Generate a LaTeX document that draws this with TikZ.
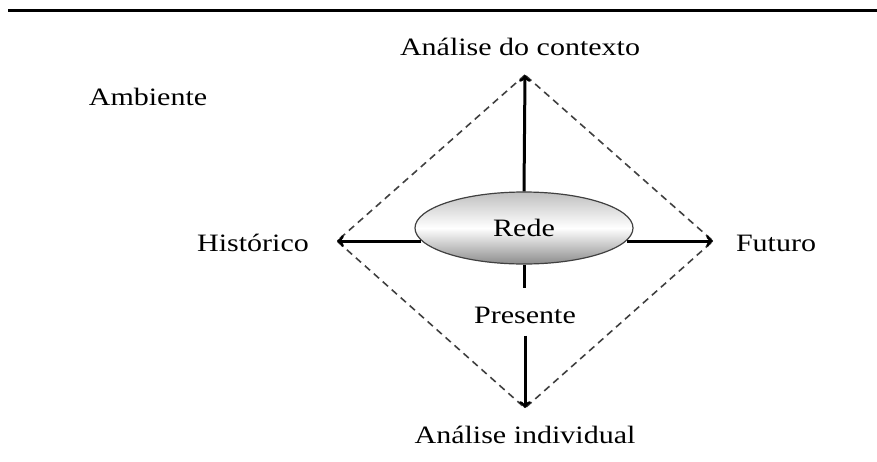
\documentclass[tikz,border=0pt]{standalone}
\usepackage{fontspec}
\setmainfont[FakeStretch=1.2]{Liberation Serif}
\usetikzlibrary{arrows,positioning,calc,shapes.geometric}

\begin{document}
\begin{tikzpicture}[x=1pt, y=-1pt,
    lbl/.style={inner sep=0pt, font=\fontsize{25}{25}\selectfont},
    axis/.style={line width=3pt, ->, >=to},
    frame/.style={dashed, line width=1.6pt, draw=black!75, dash pattern=on 7pt off 5pt}]
  \useasboundingbox (0,0) rectangle (877,461);
  \draw [line width=3pt] (8,10) -- (877,10);

  \coordinate (top) at (525,75);
  \coordinate (left) at (337,241);
  \coordinate (right) at (713,241);
  \coordinate (bottom) at (525,408);

  \node (rede) [ellipse, draw=black!75, line width=1.2pt, minimum width=218pt, minimum height=72pt,
    top color=gray!50, bottom color=gray!90, middle color=white, lbl] at (524,228) {Rede};

  \node (contexto) [lbl] at (520,47) {Análise do contexto};
  \node (individual) [lbl] at (525,435) {Análise individual};
  \node (historico) [lbl] at (253,243) {Histórico};
  \node (futuro) [lbl] at (776,243) {Futuro};
  \node (presente) [lbl] at (525,315) {Presente};
  \node (ambiente) [lbl] at (148,97) {Ambiente};

  \draw [frame] (top) -- (left) -- (bottom) -- (right) -- cycle;

  \draw [axis] (rede.north) -- (top);
  \draw [axis] (rede.west |- left) ++(7,0) -- (left);
  \draw [axis] (rede.east |- right) ++(-7,0) -- (right);
  \draw [line width=3pt] (rede.south) -- ++(0,23);
  \draw [axis] (presente.south) ++(0,12) -- (bottom);
\end{tikzpicture}
\end{document}
